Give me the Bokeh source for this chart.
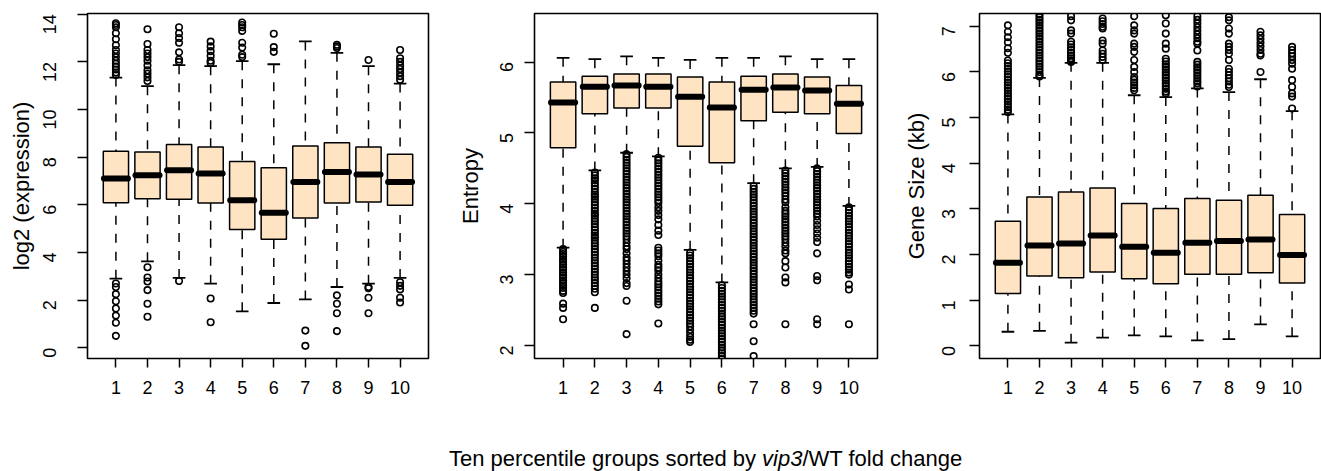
import math
from bokeh.plotting import figure
from bokeh.layouts import row, column
from bokeh.models import ColumnDataSource, FixedTicker, Div, Range1d
from bokeh.embed import file_html
from bokeh.resources import INLINE

# ---------------- data ----------------
groups = [1, 2, 3, 4, 5, 6, 7, 8, 9, 10]
group_labels = ["1", "2", "3", "4", "5", "6", "7", "8", "9", "10"]

# Panel 1: log2 (expression)
expr_low = [2.90, 3.63, 2.93, 2.69, 1.53, 1.88, 2.03, 2.55, 2.69, 2.93]
expr_q1 = [6.09, 6.26, 6.23, 6.08, 4.96, 4.55, 5.45, 6.08, 6.12, 5.98]
expr_med = [7.10, 7.24, 7.45, 7.31, 6.19, 5.67, 6.96, 7.38, 7.27, 6.96]
expr_q3 = [8.25, 8.22, 8.53, 8.43, 7.82, 7.56, 8.47, 8.61, 8.43, 8.12]
expr_high = [11.34, 10.98, 11.86, 11.82, 12.03, 11.90, 12.86, 12.38, 11.82, 11.09]
expr_out = [
    [13.62, 13.55, 13.45, 13.2, 12.95, 12.7, 12.5, 12.35, 12.2, 12.05, 11.92, 11.8, 11.68,
     11.55, 11.45, 2.7, 2.55, 2.25, 1.95, 1.65, 1.35, 1.05, 0.5],
    [13.37, 12.75, 12.5, 12.35, 12.2, 12.05, 11.85, 11.65, 11.5, 11.35, 11.2,
     3.38, 2.95, 2.78, 2.42, 1.85, 1.3],
    [13.45, 13.2, 13.0, 12.8, 12.4, 12.1, 12.0, 2.8],
    [12.85, 12.65, 12.45, 12.25, 12.05, 11.95, 2.07, 1.07],
    [13.65, 13.55, 13.45, 13.3, 12.8, 12.6, 12.3, 12.2],
    [13.18, 12.62, 12.42],
    [0.72, 0.08],
    [12.72, 12.65, 12.58, 2.2, 1.85, 1.45, 0.7],
    [12.08, 2.55, 2.5, 2.1, 1.45],
    [12.5, 12.15, 12.0, 11.85, 11.7, 11.55, 11.4, 11.25, 2.75, 2.6, 2.45, 2.1, 1.9],
]

# Panel 2: Entropy
ent_low = [3.38, 4.47, 4.72, 4.67, 3.35, 2.89, 4.29, 4.50, 4.52, 3.97]
ent_q1 = [4.79, 5.27, 5.35, 5.35, 4.81, 4.58, 5.17, 5.29, 5.27, 4.99]
ent_med = [5.43, 5.65, 5.67, 5.65, 5.51, 5.36, 5.61, 5.64, 5.60, 5.41]
ent_q3 = [5.72, 5.80, 5.83, 5.83, 5.79, 5.72, 5.80, 5.83, 5.79, 5.67]
ent_high = [6.06, 6.04, 6.08, 6.06, 6.03, 6.06, 6.06, 6.08, 6.04, 6.04]
ent_out = [
    [3.36, 3.32, 3.29, 3.25, 3.21, 3.18, 3.14, 3.10, 3.07, 3.03, 2.99, 2.96, 2.92, 2.88,
     2.85, 2.81, 2.77, 2.74, 2.59, 2.53, 2.37],
    [4.44, 4.40, 4.36, 4.33, 4.29, 4.25, 4.21, 4.17, 4.13, 4.10, 4.06, 4.02, 3.98, 3.94,
     3.90, 3.86, 3.83, 3.79, 3.75, 3.71, 3.67, 3.63, 3.59, 3.55, 3.52, 3.48, 3.44, 3.40,
     3.36, 3.32, 3.28, 3.24, 3.20, 3.16, 3.12, 3.08, 3.04, 3.00, 2.96, 2.92, 2.88, 2.84,
     2.80, 2.75, 2.53],
    [4.70, 4.66, 4.62, 4.58, 4.54, 4.50, 4.46, 4.42, 4.38, 4.34, 4.30, 4.26, 4.22, 4.18,
     4.14, 4.10, 4.06, 4.02, 3.98, 3.94, 3.90, 3.86, 3.82, 3.78, 3.74, 3.70, 3.66, 3.62,
     3.58, 3.54, 3.50, 3.45, 3.40, 3.36, 3.30, 3.24, 3.20, 3.15, 3.10, 3.05, 3.00, 2.95,
     2.88, 2.84, 2.63, 2.16],
    [4.65, 4.61, 4.57, 4.53, 4.49, 4.45, 4.41, 4.37, 4.33, 4.29, 4.25, 4.21, 4.17, 4.13,
     4.09, 4.05, 4.01, 3.95, 3.90, 3.84, 3.78, 3.70, 3.62, 3.56, 3.38, 3.34, 3.30, 3.26,
     3.20, 3.14, 3.10, 3.06, 3.00, 2.95, 2.90, 2.86, 2.82, 2.78, 2.74, 2.70, 2.66, 2.62,
     2.58, 2.31],
    [3.31, 3.27, 3.23, 3.19, 3.15, 3.11, 3.07, 3.03, 2.99, 2.95, 2.91, 2.87, 2.83, 2.79,
     2.75, 2.71, 2.67, 2.63, 2.59, 2.55, 2.51, 2.47, 2.43, 2.39, 2.35, 2.31, 2.27, 2.22,
     2.17, 2.12, 2.08, 2.05],
    [2.85, 2.81, 2.77, 2.73, 2.69, 2.65, 2.61, 2.57, 2.53, 2.49, 2.45, 2.41, 2.37, 2.33,
     2.29, 2.25, 2.21, 2.17, 2.13, 2.09, 2.05, 2.01, 1.97, 1.93, 1.89, 1.85, 1.81],
    [4.25, 4.21, 4.17, 4.13, 4.09, 4.05, 4.01, 3.97, 3.93, 3.89, 3.85, 3.81, 3.77, 3.73,
     3.69, 3.65, 3.61, 3.57, 3.53, 3.49, 3.45, 3.41, 3.37, 3.33, 3.29, 3.25, 3.21, 3.17,
     3.13, 3.09, 3.05, 3.01, 2.97, 2.93, 2.89, 2.85, 2.81, 2.77, 2.73, 2.69, 2.65, 2.61,
     2.57, 2.53, 2.49, 2.45, 2.30, 2.06, 1.85],
    [4.47, 4.43, 4.39, 4.35, 4.31, 4.27, 4.23, 4.19, 4.15, 4.11, 4.06, 4.02, 3.95, 3.90,
     3.86, 3.82, 3.78, 3.74, 3.70, 3.66, 3.62, 3.58, 3.54, 3.50, 3.45, 3.40, 3.34, 3.30,
     3.19, 3.10, 2.96, 2.89, 2.30],
    [4.50, 4.46, 4.42, 4.38, 4.34, 4.30, 4.26, 4.22, 4.18, 4.14, 4.10, 4.06, 4.02, 3.98,
     3.94, 3.90, 3.86, 3.82, 3.76, 3.70, 3.64, 3.58, 3.52, 3.46, 3.30, 2.98, 2.92, 2.37,
     2.30],
    [3.95, 3.91, 3.87, 3.83, 3.79, 3.75, 3.71, 3.67, 3.63, 3.59, 3.55, 3.51, 3.47, 3.43,
     3.39, 3.35, 3.31, 3.27, 3.23, 3.19, 3.15, 3.11, 3.07, 3.03, 3.00, 2.86, 2.79, 2.30],
]

# Panel 3: Gene Size (kb)
gs_low = [0.31, 0.33, 0.07, 0.18, 0.23, 0.21, 0.12, 0.15, 0.47, 0.21]
gs_q1 = [1.15, 1.53, 1.49, 1.62, 1.47, 1.36, 1.57, 1.57, 1.60, 1.38]
gs_med = [1.82, 2.20, 2.24, 2.42, 2.17, 2.04, 2.26, 2.30, 2.33, 1.99]
gs_q3 = [2.73, 3.26, 3.37, 3.46, 3.12, 3.01, 3.23, 3.19, 3.30, 2.88]
gs_high = [5.07, 5.87, 6.20, 6.20, 5.49, 5.45, 5.64, 5.56, 5.84, 5.14]
gs_out = [
    [7.02, 6.88, 6.76, 6.65, 6.52, 6.42, 6.25, 6.19, 6.13, 6.07, 6.01, 5.95, 5.89, 5.83,
     5.77, 5.71, 5.65, 5.59, 5.53, 5.47, 5.41, 5.35, 5.29, 5.23, 5.17, 5.12],
    [7.9, 7.5, 7.26, 7.20, 7.14, 7.08, 7.02, 6.96, 6.90, 6.84, 6.78, 6.72, 6.66, 6.60,
     6.54, 6.48, 6.42, 6.36, 6.30, 6.24, 6.18, 6.12, 6.06, 6.00, 5.94, 5.90],
    [7.6, 7.22, 7.13, 6.91, 6.84, 6.66, 6.60, 6.54, 6.48, 6.42, 6.36, 6.30, 6.25, 6.22],
    [7.17, 7.11, 7.05, 6.99, 6.95, 6.69, 6.62, 6.47, 6.40, 6.33, 6.26],
    [7.5, 7.22, 7.02, 6.91, 6.84, 6.62, 6.55, 6.44, 6.26, 6.11, 6.00, 5.89, 5.83, 5.77,
     5.71, 5.65, 5.60],
    [7.6, 7.24, 7.06, 6.84, 6.62, 6.51, 6.29, 6.23, 6.17, 6.11, 6.05, 5.99, 5.93, 5.87,
     5.81, 5.75, 5.69, 5.63, 5.57, 5.53],
    [7.8, 7.22, 7.14, 7.06, 6.98, 6.90, 6.82, 6.74, 6.66, 6.62, 6.47, 6.22, 6.16, 6.10,
     6.04, 5.98, 5.92, 5.86, 5.80, 5.75, 5.68],
    [7.7, 7.20, 7.13, 6.95, 6.84, 6.62, 6.55, 6.48, 6.40, 6.26, 6.07, 6.00, 5.93, 5.86,
     5.79, 5.72, 5.67],
    [6.88, 6.80, 6.72, 6.64, 6.56, 6.48, 6.40, 6.36, 6.00],
    [6.55, 6.48, 6.41, 6.34, 6.26, 6.18, 6.07, 5.82, 5.67, 5.53, 5.46, 5.20],
]

FONT = "Liberation Sans"
FILL = "#FFE4C4"


def make_panel(q1, med, q3, low, high, outliers, yr, yticks, ylabel,
               width, bl, br, lab_standoff, axlab_standoff):
    p = figure(width=width, height=410, x_range=Range1d(0.1, 10.9),
               y_range=Range1d(*yr), output_backend="svg", toolbar_location=None,
               min_border_left=bl, min_border_right=br, min_border_top=13,
               min_border_bottom=52)
    p.grid.visible = False
    p.outline_line_color = "black"
    p.outline_line_width = 1.6
    p.background_fill_color = "white"
    p.border_fill_color = "white"

    src = ColumnDataSource(dict(
        x=groups, q1=q1, med=med, q3=q3, low=low, high=high,
        ml=[g - 0.38 for g in groups], mr=[g + 0.38 for g in groups],
        cl=[g - 0.2 for g in groups], cr=[g + 0.2 for g in groups],
    ))
    # whiskers (dashed, starting at the staple)
    p.segment(x0="x", y0="high", x1="x", y1="q3", source=src,
              line_color="black", line_width=1.5, line_dash="9 9")
    p.segment(x0="x", y0="low", x1="x", y1="q1", source=src,
              line_color="black", line_width=1.5, line_dash="9 9")
    # staples
    p.segment(x0="cl", y0="high", x1="cr", y1="high", source=src,
              line_color="black", line_width=1.8)
    p.segment(x0="cl", y0="low", x1="cr", y1="low", source=src,
              line_color="black", line_width=1.8)
    # boxes
    p.vbar(x="x", width=0.8, bottom="q1", top="q3", source=src,
           fill_color=FILL, line_color="black", line_width=1.5)
    # medians
    p.segment(x0="ml", y0="med", x1="mr", y1="med", source=src,
              line_color="black", line_width=6, line_cap="round")
    # outliers
    ox = [g for g, grp in zip(groups, outliers) for _ in grp]
    oy = [v for grp in outliers for v in grp]
    p.scatter(x=ox, y=oy, marker="circle", size=6.5, fill_color=None,
              line_color="black", line_width=1.6)

    for ax in (p.xaxis, p.yaxis):
        ax.axis_line_color = None
        ax.major_tick_in = 0
        ax.minor_tick_line_color = None
        ax.major_tick_line_color = "black"
        ax.major_tick_line_width = 1.5
        ax.major_label_text_font = FONT
        ax.major_label_text_font_size = "18px"
        ax.major_label_text_color = "black"

    p.xaxis.ticker = FixedTicker(ticks=groups)
    p.xaxis.major_label_overrides = {g: l for g, l in zip(groups, group_labels)}
    p.xaxis.major_tick_out = 9
    p.xaxis.major_label_standoff = 13

    p.yaxis.ticker = FixedTicker(ticks=yticks)
    p.yaxis.major_tick_out = 10
    p.yaxis.major_label_orientation = math.pi / 2
    p.yaxis.major_label_standoff = lab_standoff
    p.yaxis.axis_label = ylabel
    p.yaxis.axis_label_text_font = FONT
    p.yaxis.axis_label_text_font_size = "22px"
    p.yaxis.axis_label_text_font_style = "normal"
    p.yaxis.axis_label_text_color = "black"
    p.yaxis.axis_label_standoff = axlab_standoff
    return p


p1 = make_panel(expr_q1, expr_med, expr_q3, expr_low, expr_high, expr_out,
                (-0.45, 14.03), [0, 2, 4, 6, 8, 10, 12, 14], "log2 (expression)",
                440, 87, 12, 28, 0)
p2 = make_panel(ent_q1, ent_med, ent_q3, ent_low, ent_high, ent_out,
                (1.816, 6.685), [2, 3, 4, 5, 6], "Entropy",
                440, 94, 3, 18, 8)
p3 = make_panel(gs_q1, gs_med, gs_q3, gs_low, gs_high, gs_out,
                (-0.276, 7.28), [0, 1, 2, 3, 4, 5, 6, 7], "Gene Size (kb)",
                441, 99, 1, 21, 4)

xlabel = Div(
    text='Ten percentile groups sorted by <i>vip3</i>/WT fold change',
    width=1321, height=61, margin=0,
    styles={"font-family": FONT, "font-size": "22px", "color": "black",
            "padding-left": "449px", "padding-top": "33px",
            "box-sizing": "border-box", "white-space": "nowrap"},
)

layout = column(row(p1, p2, p3, spacing=0), xlabel, spacing=0)

with open("out.html", "w") as f:
    f.write(file_html(layout, INLINE))
